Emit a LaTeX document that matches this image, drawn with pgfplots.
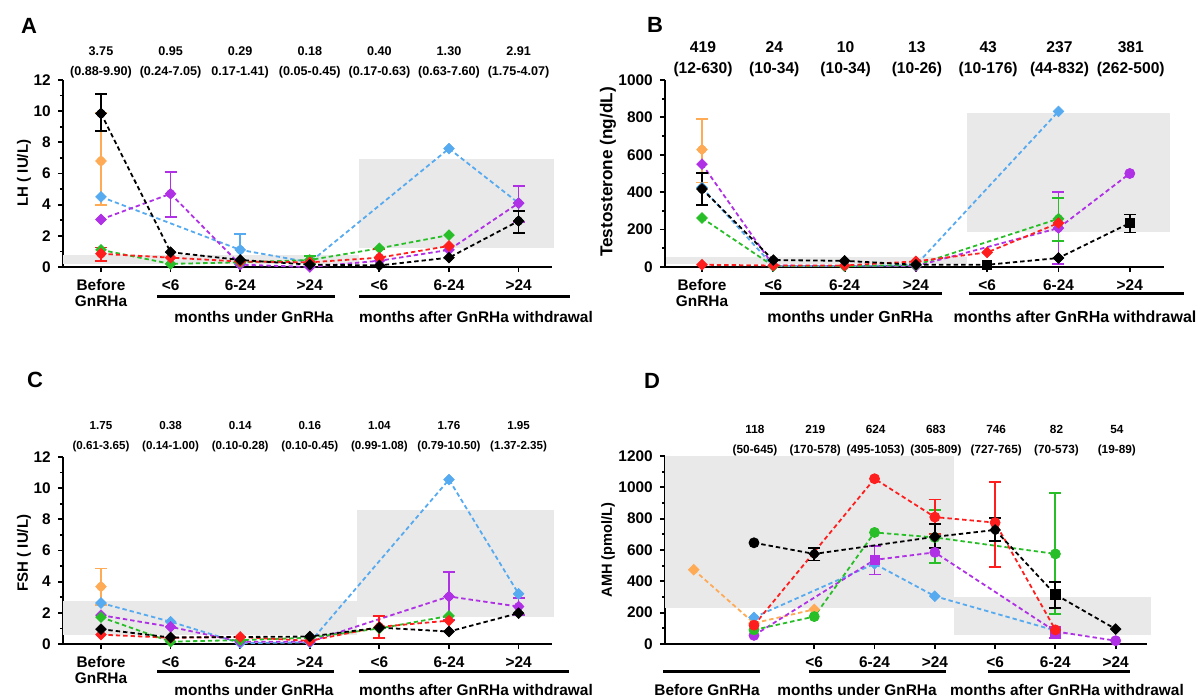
\documentclass[border=0pt]{standalone}
\usepackage{fontspec}
\setmainfont{Liberation Sans}
\usepackage{pgfplots}
\pgfplotsset{compat=1.18}

\definecolor{cBlue}{RGB}{86,170,240}
\definecolor{cPurple}{RGB}{176,48,230}
\definecolor{cGreen}{RGB}{40,190,40}
\definecolor{cRed}{RGB}{255,30,30}
\definecolor{cOrange}{RGB}{255,170,85}
\definecolor{cBox}{RGB}{233,233,233}

\newcommand{\lab}{\fontsize{7.7}{8}\selectfont\bfseries}

\pgfplotsset{
  panel/.style={
    scale only axis, clip=false,
    axis x line=bottom, axis y line=left,
    axis line style={line width=1.3pt, -},
    tick align=outside,
    major tick length=2.6pt, minor tick length=1.6pt,
    tick style={line width=0.9pt, black},
    minor y tick num=1,
    tick label style={font=\lab},
    xticklabel style={align=center},
    /pgf/number format/assume math mode=true,
    /pgf/number format/1000 sep={},
    xtick={0,...,6},
    xticklabels={{Before\\GnRHa},{<6},{6-24},{>24},{<6},{6-24},{>24}},
  },
  ser/.style={color=#1, line width=0.9pt, dash pattern=on 2.2pt off 1.5pt,
    mark=square*, mark size=1.9pt,
    mark options={solid, rotate=45, fill=#1, draw=#1, line width=0.3pt}},
  line/.style={color=#1, line width=0.9pt, dash pattern=on 2.2pt off 1.5pt, mark=none},
  dia/.style={only marks, color=#1, mark=square*, mark size=1.9pt,
    mark options={solid, rotate=45, fill=#1, draw=#1, line width=0.3pt}},
  cir/.style={only marks, color=#1, mark=*, mark size=2.5pt,
    mark options={solid, fill=#1, draw=#1}},
  sqr/.style={only marks, color=#1, mark=square*, mark size=2.3pt,
    mark options={solid, fill=#1, draw=#1}},
  err/.style={color=#1, only marks, mark=none,
    error bars/.cd, y dir=both, y explicit, error mark=-,
    error bar style={draw=#1, solid, line width=0.9pt},
    error mark options={rotate=90, draw=#1, solid, line width=0.9pt, mark size=3pt}},
  box/.style={draw=none, fill=cBox},
}

\begin{document}
\begin{tikzpicture}
\begin{scope}[x=0.5pt,y=-0.5pt]
\useasboundingbox (0,0) rectangle (1199,699);
\end{scope}

% ---------------- A: LH
\begin{axis}[panel, at={(31.5pt,-133.5pt)}, anchor=south west,
  width=244.5pt, height=93.5pt, xmin=-0.546, xmax=6.48, ymin=0, ymax=12,
  ytick={0,2,...,12}]
\addplot[box] coordinates {(-0.54,0.18) (3.71,0.18) (3.71,0.8) (-0.54,0.8)} -- cycle;
\addplot[box] coordinates {(3.71,1.2) (6.51,1.2) (6.51,6.95) (3.71,6.95)} -- cycle;
\addplot[err=cOrange] coordinates {(0,6.8) += (0,3.1) -= (0,2.8)};
\addplot[ser=cOrange] coordinates {(0,6.8)};
\addplot[err=cBlue] coordinates {(2,1.1) += (0,1.0) -= (0,0.9)};
\addplot[ser=cBlue] coordinates {(0,4.5) (2,1.1) (3,0.3) (5,7.6) (6,4.1)};
\addplot[err=cPurple] coordinates {(1,4.7) += (0,1.4) -= (0,1.5) (6,4.1) += (0,1.1) -= (0,1.2)};
\addplot[ser=cPurple] coordinates {(0,3.05) (1,4.7) (2,0.15) (3,0.0) (4,0.4) (5,1.1) (6,4.1)};
\addplot[err=cGreen] coordinates {(3,0.45) += (0,0.25) -= (0,0.25)};
\addplot[ser=cGreen] coordinates {(0,1.1) (1,0.2) (2,0.3) (3,0.45) (4,1.2) (5,2.05)};
\addplot[err=cRed] coordinates {(0,0.85) += (0,0.4) -= (0,0.45) (4,0.6) += (0,0.55) -= (0,0.5)};
\addplot[ser=cRed] coordinates {(0,0.85) (1,0.6) (2,0.35) (3,0.3) (4,0.6) (5,1.35)};
\addplot[err=black] coordinates {(0,9.85) += (0,1.25) -= (0,1.1) (6,2.95) += (0,0.65) -= (0,0.75)};
\addplot[ser=black] coordinates {(0,9.85) (1,0.95) (2,0.45) (3,0.15) (4,0.1) (5,0.6) (6,2.95)};
\end{axis}

% ---------------- B: Testosterone
\begin{axis}[panel, at={(332.5pt,-133.5pt)}, anchor=south west,
  width=249.5pt, height=93.5pt, xmin=-0.519, xmax=6.48, ymin=0, ymax=1000,
  ytick={0,200,...,1000}]
\addplot[box] coordinates {(-0.51,15) (3.72,15) (3.72,55) (-0.51,55)} -- cycle;
\addplot[box] coordinates {(3.72,187) (6.56,187) (6.56,822) (3.72,822)} -- cycle;
\addplot[err=cOrange] coordinates {(0,628) += (0,164) -= (0,176)};
\addplot[ser=cOrange] coordinates {(0,628)};
\addplot[ser=cBlue] coordinates {(0,425) (1,5) (2,5) (3,10) (5,832)};
\addplot[err=cPurple] coordinates {(5,208) += (0,192) -= (0,193)};
\addplot[line=cPurple] coordinates {(0,550) (1,8) (2,5) (3,5) (5,208) (6,500)};
\addplot[dia=cPurple] coordinates {(0,550) (1,8) (2,5) (3,5) (5,208)};
\addplot[cir=cPurple] coordinates {(6,500)};
\addplot[err=cGreen] coordinates {(5,258) += (0,113) -= (0,117)};
\addplot[ser=cGreen] coordinates {(0,262) (1,5) (2,5) (3,10) (5,258)};
\addplot[ser=cRed] coordinates {(0,12) (1,8) (2,8) (3,30) (4,78) (5,235)};
\addplot[err=black] coordinates {(0,417) += (0,86) -= (0,85) (6,235) += (0,46) -= (0,51)};
\addplot[line=black] coordinates {(0,417) (1,37) (2,33) (3,12) (4,12) (5,48) (6,235)};
\addplot[dia=black] coordinates {(0,417) (1,37) (2,33) (3,12) (5,48)};
\addplot[sqr=black] coordinates {(4,12) (6,235)};
\end{axis}

% ---------------- C: FSH
\begin{axis}[panel, at={(31.5pt,-322pt)}, anchor=south west,
  width=244.5pt, height=93.5pt, xmin=-0.546, xmax=6.48, ymin=0, ymax=12,
  ytick={0,2,...,12}]
\addplot[box] coordinates {(-0.54,0.59) (3.68,0.59) (3.68,2.76) (-0.54,2.76)} -- cycle;
\addplot[box] coordinates {(3.68,1.75) (6.51,1.75) (6.51,8.63) (3.68,8.63)} -- cycle;
\addplot[err=cOrange] coordinates {(0,3.68) += (0,1.16) -= (0,1.2)};
\addplot[ser=cOrange] coordinates {(0,3.68)};
\addplot[ser=cBlue] coordinates {(0,2.63) (1,1.43) (2,0.06) (3,0.1) (5,10.55) (6,3.22)};
\addplot[err=cPurple] coordinates {(5,3.05) += (0,1.58) -= (0,1.5) (6,2.4) += (0,0.55) -= (0,0.55)};
\addplot[ser=cPurple] coordinates {(0,1.85) (1,1.1) (2,0.15) (3,0.15) (5,3.05) (6,2.4)};
\addplot[ser=cGreen] coordinates {(0,1.72) (1,0.15) (2,0.25) (3,0.4) (4,1.0) (5,1.8)};
\addplot[err=cRed] coordinates {(4,1.1) += (0,0.68) -= (0,0.72)};
\addplot[ser=cRed] coordinates {(0,0.6) (1,0.4) (2,0.45) (3,0.2) (4,1.1) (5,1.5)};
\addplot[ser=black] coordinates {(0,0.95) (1,0.42) (3,0.48) (4,1.05) (5,0.8) (6,1.98)};
\end{axis}

% ---------------- D: AMH
\begin{axis}[panel, at={(332.5pt,-322pt)}, anchor=south west,
  width=241pt, height=94pt, xmin=-1.476, xmax=6.52, ymin=0, ymax=1200,
  ytick={0,200,...,1200}, xtick={1,...,6},
  xticklabels={{<6},{6-24},{>24},{<6},{6-24},{>24}}]
\addplot[box] coordinates {(-1.47,227) (3.32,227) (3.32,1200) (-1.47,1200)} -- cycle;
\addplot[box] coordinates {(3.32,55) (6.58,55) (6.58,297) (3.32,297)} -- cycle;
\addplot[ser=cOrange] coordinates {(-1,474) (0,133) (1,221)};
\addplot[ser=cBlue] coordinates {(0,170) (2,512) (3,305) (5,86)};
\addplot[err=cPurple] coordinates {(2,537) += (0,90) -= (0,93) (5,80) += (0,27) -= (0,42)};
\addplot[line=cPurple] coordinates {(0,55) (2,537) (3,585) (5,80) (6,21)};
\addplot[cir=cPurple] coordinates {(0,55) (3,585) (6,21)};
\addplot[sqr=cPurple] coordinates {(2,537) (5,80)};
\addplot[err=cGreen] coordinates {(3,680) += (0,173) -= (0,162) (5,575) += (0,387) -= (0,383)};
\addplot[line=cGreen] coordinates {(0,90) (1,175) (2,712) (3,680) (5,575)};
\addplot[cir=cGreen] coordinates {(0,90) (1,175) (2,712) (3,680) (5,575)};
\addplot[err=cRed] coordinates {(3,810) += (0,112) -= (0,110) (4,775) += (0,259) -= (0,285)};
\addplot[line=cRed] coordinates {(0,120) (2,1055) (3,810) (4,775) (5,90)};
\addplot[cir=cRed] coordinates {(0,120) (2,1055) (3,810) (4,775) (5,90)};
\addplot[err=black] coordinates {(1,575) += (0,38) -= (0,42) (3,684) += (0,80) -= (0,71)
  (4,728) += (0,74) -= (0,69) (5,316) += (0,80) -= (0,84)};
\addplot[line=black] coordinates {(0,646) (1,575) (3,684) (4,728) (5,316) (6,95)};
\addplot[cir=black] coordinates {(0,646)};
\addplot[dia=black] coordinates {(1,575) (3,684) (4,728) (6,95)};
\addplot[sqr=black] coordinates {(5,316)};
\end{axis}

% ---------------- annotations (pixel coordinates)
\begin{scope}[x=0.5pt,y=-0.5pt, every node/.style={inner sep=0pt}]
\node[font=\fontsize{11}{12}\selectfont\bfseries] at (29,26) {A};
\node[font=\fontsize{11}{12}\selectfont\bfseries] at (655,25) {B};
\node[font=\fontsize{11}{12}\selectfont\bfseries] at (35,380) {C};
\node[font=\fontsize{11}{12}\selectfont\bfseries] at (652,381) {D};

\node[rotate=90, font=\fontsize{7.5}{8}\selectfont\bfseries] at (24,173) {LH ( IU/L)};
\node[rotate=90, font=\fontsize{8.6}{9}\selectfont\bfseries] at (608,172) {Testosterone (ng/dL)};
\node[rotate=90, font=\fontsize{7.5}{8}\selectfont\bfseries] at (24,553) {FSH ( IU/L)};
\node[rotate=90, font=\fontsize{7.3}{8}\selectfont\bfseries] at (608,550) {AMH (pmol/L)};

\foreach \i/\a/\b in {0/3.75/(0.88-9.90), 1/0.95/(0.24-7.05), 2/0.29/0.17-1.41),
  3/0.18/(0.05-0.45), 4/0.40/(0.17-0.63), 5/1.30/(0.63-7.60), 6/2.91/(1.75-4.07)}
  \node[align=center, font=\fontsize{6.3}{10}\selectfont\bfseries] at ({101+69.6*\i},62) {\a\\\b};
\foreach \i/\a/\b in {0/419/(12-630), 1/24/(10-34), 2/10/(10-34), 3/13/(10-26),
  4/43/(10-176), 5/237/(44-832), 6/381/(262-500)}
  \node[align=center, font=\fontsize{7.8}{10.5}\selectfont\bfseries] at ({703+71.3*\i},59) {\a\\\b};
\foreach \i/\a/\b in {0/1.75/(0.61-3.65), 1/0.38/(0.14-1.00), 2/0.14/(0.10-0.28),
  3/0.16/(0.10-0.45), 4/1.04/(0.99-1.08), 5/1.76/(0.79-10.50), 6/1.95/(1.37-2.35)}
  \node[align=center, font=\fontsize{5.8}{10}\selectfont\bfseries] at ({101+69.6*\i},437) {\a\\\b};
\foreach \i/\a/\b in {0/118/(50-645), 1/219/(170-578), 2/624/(495-1053), 3/683/(305-809),
  4/746/(727-765), 5/82/(70-573), 6/54/(19-89)}
  \node[align=center, font=\fontsize{5.9}{10}\selectfont\bfseries] at ({755+60.3*\i},441) {\a\\\b};

\begin{scope}[line width=1.5pt]
\draw (157,297) -- (335,297);  \draw (359,297) -- (570,297);
\draw (760,294) -- (942,294);  \draw (969,294) -- (1184,294);
\draw (157,671) -- (334,671);  \draw (359,671) -- (569,671);
\draw (663,671) -- (760,671);  \draw (809,671) -- (946,671);  \draw (988,671) -- (1130,671);
\end{scope}
\begin{scope}[font=\fontsize{7.7}{8}\selectfont\bfseries]
\node at (254,317) {months under GnRHa};
\node at (476,317) {months after GnRHa withdrawal};
\node[font=\fontsize{8}{8}\selectfont\bfseries] at (850,317) {months under GnRHa};
\node[font=\fontsize{8}{8}\selectfont\bfseries] at (1075,317) {months after GnRHa withdrawal};
\node at (254,690) {months under GnRHa};
\node at (476,690) {months after GnRHa withdrawal};
\node at (707,690) {Before GnRHa};
\node at (857,690) {months under GnRHa};
\node at (1067,690) {months after GnRHa withdrawal};
\end{scope}
\end{scope}
\end{tikzpicture}
\end{document}
